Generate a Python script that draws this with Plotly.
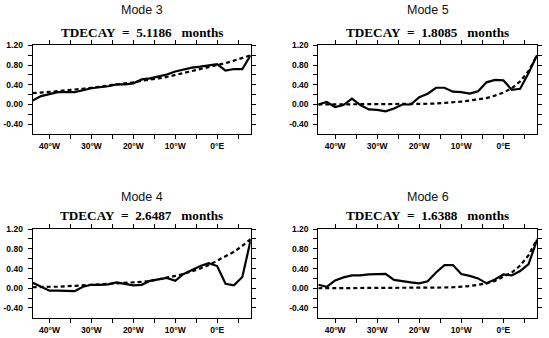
import plotly.graph_objects as go

lon = [-44, -42, -40, -38, -36, -34, -32, -30, -28, -26, -24, -22, -20, -18,
       -16, -14, -12, -10, -8, -6, -4, -2, 0, 2, 4, 6, 8]

mode3_obs = [0.08, 0.17, 0.21, 0.25, 0.25, 0.25, 0.29, 0.33, 0.35, 0.37, 0.41, 0.41, 0.43, 0.51,
             0.53, 0.57, 0.61, 0.67, 0.71, 0.75, 0.77, 0.79, 0.82, 0.69, 0.72, 0.72, 1.00]
mode3_fit = [0.23, 0.24, 0.26, 0.27, 0.29, 0.30, 0.32, 0.34, 0.36, 0.38, 0.40, 0.43, 0.45, 0.48,
             0.50, 0.53, 0.56, 0.60, 0.64, 0.67, 0.71, 0.75, 0.80, 0.84, 0.89, 0.95, 1.00]

mode5_obs = [0.00, 0.05, -0.05, -0.01, 0.12, -0.01, -0.10, -0.11, -0.14, -0.08, 0.00, 0.00, 0.15, 0.22,
             0.34, 0.34, 0.26, 0.25, 0.22, 0.27, 0.45, 0.50, 0.49, 0.30, 0.32, 0.64, 1.00]
mode5_fit = [0.00, 0.00, 0.00, 0.00, 0.00, 0.00, 0.00, 0.00, 0.00, 0.00, 0.00, 0.005, 0.01, 0.015,
             0.02, 0.03, 0.04, 0.06, 0.08, 0.10, 0.13, 0.18, 0.24, 0.33, 0.47, 0.68, 1.00]

mode4_obs = [0.11, 0.03, -0.05, -0.05, -0.06, -0.06, 0.03, 0.07, 0.07, 0.08, 0.12, 0.09, 0.06, 0.07,
             0.15, 0.18, 0.21, 0.15, 0.29, 0.37, 0.45, 0.51, 0.45, 0.09, 0.06, 0.23, 0.98]
mode4_fit = [0.02, 0.03, 0.03, 0.03, 0.04, 0.04, 0.05, 0.06, 0.07, 0.08, 0.09, 0.10, 0.12, 0.13,
             0.15, 0.18, 0.21, 0.25, 0.29, 0.34, 0.40, 0.47, 0.56, 0.64, 0.74, 0.86, 1.00]

mode6_obs = [0.07, 0.03, 0.16, 0.22, 0.26, 0.26, 0.28, 0.28, 0.29, 0.17, 0.14, 0.12, 0.10, 0.14,
             0.32, 0.47, 0.47, 0.29, 0.25, 0.20, 0.10, 0.18, 0.28, 0.26, 0.35, 0.49, 0.98]
mode6_fit = [0.00, 0.00, 0.00, 0.00, 0.00, 0.00, 0.00, 0.00, 0.00, 0.00, 0.00, 0.00, 0.00, 0.005,
             0.01, 0.015, 0.02, 0.03, 0.045, 0.07, 0.10, 0.15, 0.23, 0.32, 0.46, 0.67, 1.00]

mode_names = ["Mode 3", "Mode 5", "Mode 4", "Mode 6"]
tdecay = ["5.1186", "1.8085", "2.6487", "1.6388"]

x_tickvals = [-40, -35, -30, -25, -20, -15, -10, -5, 0, 5]
x_ticktext = ["40°W", "", "30°W", "", "20°W", "", "10°W", "", "0°E", ""]
y_tickvals = [-0.4, -0.2, 0.0, 0.2, 0.4, 0.6, 0.8, 1.0, 1.2]
y_ticktext = ["-0.40", "", "0.00", "", "0.40", "", "0.80", "", "1.20"]

W, H = 549, 338
panels = [
    (32.7, 250.7, 41, 131),
    (318.3, 537.0, 41, 131),
    (32.7, 250.7, 227.5, 317.5),
    (318.3, 537.0, 227.5, 317.5),
]
title_y = [(5.5, 27.5), (5.5, 27.5), (194.5, 214), (194.5, 214)]
series = [(mode3_obs, mode3_fit), (mode5_obs, mode5_fit),
          (mode4_obs, mode4_fit), (mode6_obs, mode6_fit)]

fig = go.Figure()
annotations = []
for i, ((x0, x1, y0, y1), (obs, fit)) in enumerate(zip(panels, series)):
    n = "" if i == 0 else str(i + 1)
    xa, ya = "x" + n, "y" + n
    fig.add_trace(go.Scatter(x=lon, y=fit, mode="lines", xaxis=xa, yaxis=ya,
                             line=dict(color="black", width=2.2, dash="4px,3px"),
                             showlegend=False, hoverinfo="skip"))
    fig.add_trace(go.Scatter(x=lon, y=obs, mode="lines", xaxis=xa, yaxis=ya,
                             line=dict(color="black", width=2.2),
                             showlegend=False, hoverinfo="skip"))
    axcommon = dict(showline=True, linecolor="black", linewidth=1.2, mirror="allticks",
                    ticks="outside", ticklen=4, tickwidth=1, tickcolor="black",
                    showgrid=False, zeroline=False,
                    tickfont=dict(family="Liberation Sans", size=8.5, color="black", weight="bold"))
    fig.update_layout(**{
        ("xaxis" + n): dict(domain=[x0 / W, x1 / W], range=[-44, 8], anchor=ya,
                            tickvals=x_tickvals, ticktext=x_ticktext, ticklabelstandoff=0, **axcommon),
        ("yaxis" + n): dict(domain=[1 - y1 / H, 1 - y0 / H], range=[-0.6, 1.2], anchor=xa,
                            tickvals=y_tickvals, ticktext=y_ticktext, ticklabelstandoff=3, **axcommon),
    })
    cx = (x0 + x1) / 2 / W
    annotations.append(dict(x=cx, y=1 - title_y[i][0] / H, xref="paper", yref="paper",
                            text=mode_names[i], showarrow=False, xanchor="center", yanchor="middle",
                            font=dict(family="Liberation Sans", size=12.5, color="#111")))
    annotations.append(dict(x=cx, y=1 - title_y[i][1] / H, xref="paper", yref="paper",
                            text="TDECAY&nbsp;&nbsp;=&nbsp;&nbsp;" + tdecay[i] + "&nbsp;&nbsp;&nbsp;months",
                            showarrow=False, xanchor="center", yanchor="middle",
                            font=dict(family="Liberation Serif", size=13.2, color="black", weight="bold")))

fig.update_layout(width=W, height=H, margin=dict(l=0, r=0, t=0, b=0),
                  paper_bgcolor="white", plot_bgcolor="white", annotations=annotations)
fig.write_html("out.html")
